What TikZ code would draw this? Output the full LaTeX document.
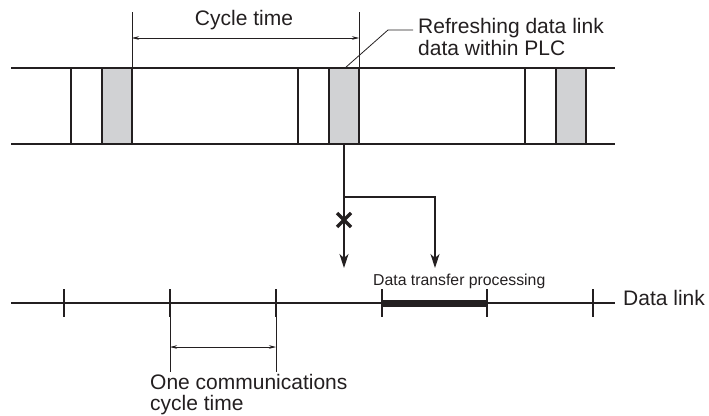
\documentclass[tikz,border=0pt]{standalone}
\usepackage{fontspec}
\setmainfont{Liberation Sans}
\usepackage{tikz}
\usetikzlibrary{arrows.meta}
\usepackage{xcolor}
\definecolor{ink}{HTML}{231F20}
\definecolor{boxgray}{HTML}{D1D2D4}

\begin{document}
\begin{tikzpicture}[x=1pt, y=-1pt,
    band/.style={draw=ink, line width=2pt},
    dim/.style={draw=ink, line width=0.6pt},
    dimarrow/.style={dim, {Stealth[length=7pt,width=3.5pt]}-{Stealth[length=7pt,width=3.5pt]}},
    flow/.style={draw=ink, line width=1.2pt},
    flowarrow/.style={flow, -{Stealth[length=14pt,width=9pt,inset=4pt]}},
    lbl/.style={font=\fontsize{21}{22}\selectfont, text=ink, inner sep=0pt, anchor=base west},
    smalllbl/.style={font=\fontsize{15.8}{17}\selectfont, text=ink, inner sep=0pt, anchor=base west}]
    \useasboundingbox (0,0) rectangle (709,415);

    % PLC cycles
    \foreach \x in {71, 298, 525} {
        \fill[boxgray] (\x+31,68) rectangle (\x+61,144);
        \draw[ink, line width=1.8pt] (\x,68) -- (\x,144);
        \draw[ink, line width=2.8pt] (\x+31,68) -- (\x+31,144);
        \draw[ink, line width=2pt] (\x+61,68) -- (\x+61,144);
    }
    \draw[band] (11,68) -- (615,68);
    \draw[band] (11,144) -- (615,144);

    % cycle time
    \coordinate (ctL) at (132,38);
    \coordinate (ctR) at (359,38);
    \draw[dim] (132,12) -- (132,68);
    \draw[dim] (359,12) -- (359,68);
    \draw[dimarrow] (ctL) -- (ctR);
    \node[lbl, anchor=base] (cyclelbl) at (244,25) {Cycle time};

    % refresh label
    \node[lbl] (refreshlbl) at (418,33) {Refreshing data link};
    \node[lbl] (refreshlbl2) at (418,55) {data within PLC};
    \coordinate (leadA) at (345,68);
    \coordinate (leadB) at (388,30);
    \draw[dim, line width=0.8pt] (leadA) -- (leadB) -- (413,30);

    % transfer
    \coordinate (refresh) at (344,144);
    \coordinate (split) at (344,197);
    \coordinate (blocked) at (344,268);
    \coordinate (transfer) at (435,268);
    \draw[flow] (refresh) -- (split);
    \draw[flowarrow] (split) -- (blocked);
    \draw[flowarrow] (split) -| (transfer);
    \draw[ink, line width=3.5pt] (337,213) -- (351,227) (337,227) -- (351,213);

    % data link
    \draw[ink, line width=1.4pt] (11,303) -- (615,303);
    \foreach \x in {64, 170, 276, 382, 487, 593} {
        \draw[ink, line width=1.4pt] (\x,289) -- (\x,317);
    }
    \draw[ink, line width=7pt] (382,303) -- (487,303);
    \node[smalllbl] (transferlbl) at (373,285) {Data transfer processing};
    \node[lbl] (linklbl) at (623,305) {Data link};

    % communications cycle
    \coordinate (ccL) at (170,347);
    \coordinate (ccR) at (276,347);
    \draw[dim] (170,317) -- (170,372);
    \draw[dim] (276,317) -- (276,372);
    \draw[dimarrow] (ccL) -- (ccR);
    \node[lbl] (commlbl) at (150,389) {One communications};
    \node[lbl] (commlbl2) at (150,410) {cycle time};
\end{tikzpicture}
\end{document}
